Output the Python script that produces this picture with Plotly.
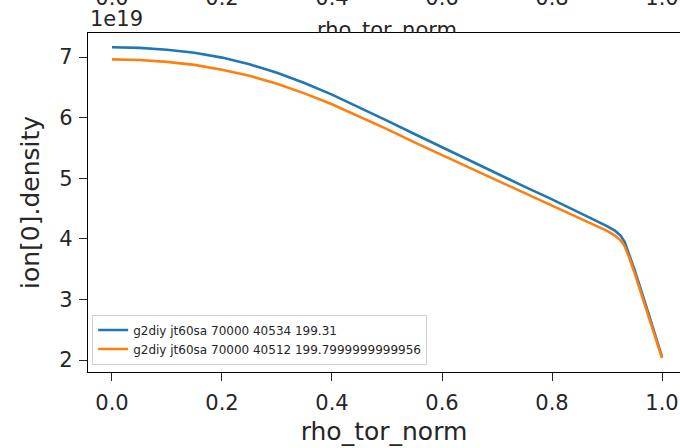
import plotly.graph_objects as go

# Normalised toroidal radius grid and ion density profiles (units of 1e19 m^-3)
rho = [0.0, 0.05, 0.10, 0.15, 0.20, 0.25, 0.30, 0.35, 0.40, 0.45, 0.50, 0.55,
       0.60, 0.65, 0.70, 0.75, 0.80, 0.85, 0.90, 0.915, 0.925, 0.932, 0.94, 0.95,
       0.975, 1.0]

dens_40534 = [7.16, 7.15, 7.12, 7.07, 6.99, 6.88, 6.74, 6.57, 6.38, 6.17, 5.95, 5.73,
              5.51, 5.29, 5.07, 4.86, 4.65, 4.43, 4.21, 4.13, 4.05, 3.95, 3.76, 3.49,
              2.78, 2.05]

dens_40512 = [6.96, 6.95, 6.92, 6.87, 6.79, 6.69, 6.56, 6.40, 6.22, 6.02, 5.81, 5.59,
              5.38, 5.17, 4.96, 4.75, 4.55, 4.34, 4.13, 4.05, 3.97, 3.88, 3.70, 3.44,
              2.75, 2.03]

labels = ["g2diy jt60sa 70000 40534 199.31",
          "g2diy jt60sa 70000 40512 199.7999999999956"]
colors = ["#1f77b4", "#ff7f0e"]

xticks = [0.0, 0.2, 0.4, 0.6, 0.8, 1.0]
xticktext = ["0.0", "0.2", "0.4", "0.6", "0.8", "1.0"]
yticks = [2, 3, 4, 5, 6, 7]

XRANGE = [-0.0436, 1.0327]
YRANGE = [1.802, 7.396]
FONT = "DejaVu Sans"
FS = 21
INK = "#262626"

fig = go.Figure()

for y, name, c in zip([dens_40534, dens_40512], labels, colors):
    fig.add_trace(go.Scatter(x=rho, y=y, mode="lines", name=name,
                             line=dict(color=c, width=2.6),
                             xaxis="x", yaxis="y"))

# Strip above the axes: bottom of the preceding panel's x labels and title
fig.add_trace(go.Scatter(x=xticks, y=[33.5] * len(xticks), text=xticktext,
                         mode="text", textfont=dict(family=FONT, size=FS, color=INK),
                         showlegend=False, hoverinfo="skip", cliponaxis=True,
                         xaxis="x2", yaxis="y2"))
fig.add_trace(go.Scatter(x=[0.5], y=[1.5], text=["rho_tor_norm"],
                         mode="text", textfont=dict(family=FONT, size=FS, color=INK),
                         showlegend=False, hoverinfo="skip", cliponaxis=True,
                         xaxis="x2", yaxis="y2"))

main_top = (372 - 33) / 372

fig.update_layout(
    width=680, height=448,
    margin=dict(l=88, r=0, t=0, b=76),
    paper_bgcolor="white", plot_bgcolor="white",
    font=dict(family=FONT, size=FS, color=INK),
    showlegend=True,
    legend=dict(x=0.007, y=0.02, xanchor="left", yanchor="bottom",
                bgcolor="rgba(255,255,255,0.8)", bordercolor="#d0d0d0", borderwidth=1,
                font=dict(family=FONT, size=12, color=INK),
                tracegroupgap=0, itemwidth=30),
    xaxis=dict(domain=[0, 1], range=XRANGE, anchor="y",
               tickvals=xticks, ticktext=xticktext,
               ticks="outside", ticklen=8, tickwidth=1.3, tickcolor=INK,
               showline=True, linecolor="black", linewidth=1.3, mirror=True,
               showgrid=False, zeroline=False, ticklabelstandoff=4,
               title=dict(text="rho_tor_norm", standoff=8)),
    yaxis=dict(domain=[0, main_top], range=YRANGE, anchor="x",
               tickvals=yticks,
               ticks="outside", ticklen=8, tickwidth=1.3, tickcolor=INK,
               showline=True, linecolor="black", linewidth=1.3, mirror=False,
               showgrid=False, zeroline=False, ticklabelstandoff=2,
               title=dict(text="ion[0].density", standoff=12)),
    xaxis2=dict(domain=[0, 1], range=XRANGE, anchor="y2", visible=False),
    yaxis2=dict(domain=[main_top, 1], range=[0, 33], anchor="x2", visible=False),
    annotations=[dict(text="1e19", xref="paper", yref="paper", x=0, y=1,
                      xanchor="left", yanchor="top", yshift=-5, showarrow=False,
                      font=dict(family=FONT, size=FS, color=INK))],
)

fig.write_html("out.html")
